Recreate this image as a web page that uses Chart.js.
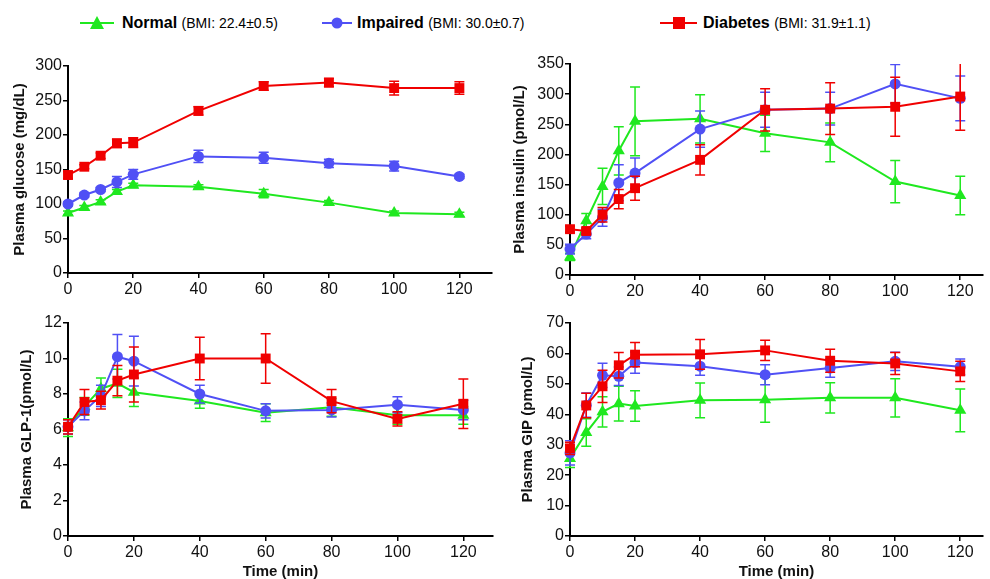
<!DOCTYPE html>
<html>
<head>
<meta charset="utf-8">
<script src="https://cdn.jsdelivr.net/npm/chart.js@4.4.1/dist/chart.umd.min.js"></script>
<style>
  body { margin: 0; background: #fff; font-family: "Liberation Sans", Arial, sans-serif; }
  #wrap { position: relative; width: 990px; height: 579px; overflow: hidden; }
  canvas { position: absolute; }
  .leg { position: absolute; top: 10px; height: 26px; white-space: nowrap; }
  .leg svg { position: absolute; top: 0; }
  .leg span.t { position: absolute; top: 4px; }
  .leg b { font-size: 16px; }
  .leg small { font-size: 14px; }
</style>
</head>
<body>
<div id="wrap">
  <div class="leg" style="left:80px"><svg width="40" height="26"><line x1="0" y1="13" x2="34" y2="13" stroke="#1fe81f" stroke-width="2"/><polygon points="17,6 24,19 10,19" fill="#1fe81f"/></svg><span class="t" style="left:42px"><b>Normal</b> <small>(BMI: 22.4±0.5)</small></span></div>
  <div class="leg" style="left:322px"><svg width="34" height="26"><line x1="0" y1="13" x2="30" y2="13" stroke="#5050f5" stroke-width="2"/><circle cx="15" cy="13" r="5.5" fill="#5050f5"/></svg><span class="t" style="left:35px"><b>Impaired</b> <small>(BMI: 30.0±0.7)</small></span></div>
  <div class="leg" style="left:660px"><svg width="40" height="26"><line x1="0" y1="13" x2="37" y2="13" stroke="#f00000" stroke-width="2"/><rect x="13" y="7" width="12" height="12" fill="#f00000"/></svg><span class="t" style="left:43px"><b>Diabetes</b> <small>(BMI: 31.9±1.1)</small></span></div>
  <canvas id="c1" style="left:0;top:50px"></canvas>
  <canvas id="c2" style="left:500px;top:50px"></canvas>
  <canvas id="c3" style="left:0;top:300px"></canvas>
  <canvas id="c4" style="left:500px;top:300px"></canvas>
</div>
<script>
const times = [0, 5, 10, 15, 20, 40, 60, 80, 100, 120];
const xTicks = [0, 20, 40, 60, 80, 100, 120];
const groups = ["Normal", "Impaired", "Diabetes"];

// glucose (mg/dL): mean and SEM
const glucoseNormal = [87, 95, 103, 118, 127, 125, 115, 102, 87, 85];
const glucoseNormalErr = [3, 3, 3, 3, 3, 3, 6, 3, 3, 3];
const glucoseImpaired = [100, 113, 121, 132, 143, 169, 167, 159, 155, 140];
const glucoseImpairedErr = [3, 3, 3, 8, 7, 9, 8, 6, 7, 3];
const glucoseDiabetes = [142, 154, 170, 188, 189, 235, 271, 276, 268, 268];
const glucoseDiabetesErr = [5, 3, 4, 6, 7, 6, 6, 6, 10, 9];

// insulin (pmol/L)
const insulinNormal = [30, 90, 147, 206, 255, 259, 235, 220, 155, 132];
const insulinNormalErr = [6, 12, 30, 40, 57, 40, 30, 32, 35, 32];
const insulinImpaired = [43, 68, 95, 153, 169, 242, 274, 276, 317, 293];
const insulinImpairedErr = [8, 8, 14, 30, 25, 30, 29, 27, 32, 37];
const insulinDiabetes = [76, 73, 100, 126, 144, 191, 274, 276, 279, 296];
const insulinDiabetesErr = [5, 5, 12, 16, 20, 25, 35, 43, 49, 56];

// GLP-1 (pmol/L)
const glp1Normal = [6.1, 7.3, 8.3, 8.6, 8.1, 7.6, 6.95, 7.25, 6.8, 6.8];
const glp1NormalErr = [0.5, 0.5, 0.6, 0.8, 0.8, 0.4, 0.5, 0.5, 0.5, 0.5];
const glp1Impaired = [6.15, 7.05, 7.9, 10.1, 9.85, 8.0, 7.05, 7.1, 7.4, 7.1];
const glp1ImpairedErr = [0.4, 0.5, 0.6, 1.25, 1.4, 0.5, 0.4, 0.4, 0.45, 0.55];
const glp1Diabetes = [6.15, 7.55, 7.65, 8.75, 9.1, 10.0, 10.0, 7.6, 6.6, 7.45];
const glp1DiabetesErr = [0.4, 0.7, 0.5, 0.85, 1.55, 1.2, 1.4, 0.65, 0.4, 1.4];

// GIP (pmol/L)
const gipNormal = [25.5, 34, 40.8, 43.5, 42.7, 44.6, 44.8, 45.4, 45.4, 41.3];
const gipNormalErr = [3, 4.5, 5, 5.7, 5, 5.7, 7.4, 5, 6.3, 7];
const gipImpaired = [27.3, 43, 52.8, 52.5, 57, 55.8, 53, 55.2, 57.4, 55.6];
const gipImpairedErr = [4, 4, 4, 3, 3.5, 3, 3.3, 3, 3, 2.6];
const gipDiabetes = [28.8, 42.9, 49.2, 56.1, 59.6, 59.7, 61, 57.6, 56.7, 54.1];
const gipDiabetesErr = [2, 4, 5.3, 4.2, 4, 4.9, 3.3, 3.8, 3.6, 3.3];

const colors = ["#1fe81f", "#5050f5", "#f00000"];
const styles = ["triangle", "circle", "rect"];
const radii = [7, 5.5, 7];

// vertical SEM bars drawn under each dataset, through its scales
const errorBars = {
  id: "errorBars",
  beforeDatasetDraw(chart, args) {
    const ds = chart.data.datasets[args.index];
    if (!ds.errors) return;
    const ctx = chart.ctx;
    const ys = chart.scales.y;
    const area = chart.chartArea;
    ctx.save();
    ctx.beginPath();
    ctx.rect(area.left - 12, area.top, area.right - area.left + 24, area.bottom - area.top);
    ctx.clip();
    ctx.strokeStyle = ds.borderColor;
    ctx.lineWidth = 1.5;
    args.meta.data.forEach((pt, i) => {
      const v = ds.data[i].y, e = ds.errors[i];
      const top = ys.getPixelForValue(v + e);
      const bot = ys.getPixelForValue(v - e);
      ctx.beginPath();
      ctx.moveTo(pt.x, top); ctx.lineTo(pt.x, bot);
      ctx.moveTo(pt.x - 5, top); ctx.lineTo(pt.x + 5, top);
      ctx.moveTo(pt.x - 5, bot); ctx.lineTo(pt.x + 5, bot);
      ctx.stroke();
    });
    ctx.restore();
  }
};

function makeDatasets(series, errs) {
  return series.map((vals, g) => ({
    label: groups[g],
    data: times.map((t, i) => ({ x: t, y: vals[i] })),
    errors: errs[g],
    borderColor: colors[g],
    backgroundColor: colors[g],
    pointStyle: styles[g],
    pointRadius: radii[g],
    pointHoverRadius: radii[g],
    pointBorderWidth: 0,
    borderWidth: 2,
    tension: 0,
    clip: false,
    order: 2 - g,
  }));
}

const tickFont = { family: "'Liberation Sans', Arial, sans-serif", size: 16 };
const titleFont = { family: "'Liberation Sans', Arial, sans-serif", size: 15, weight: "bold", lineHeight: 1 };

function makePanel(id, w, h, cfg) {
  const cv = document.getElementById(id);
  cv.width = w; cv.height = h;
  cv.style.width = w + "px"; cv.style.height = h + "px";
  return new Chart(cv, {
    type: "line",
    data: { datasets: makeDatasets(cfg.series, cfg.errs) },
    plugins: [errorBars],
    options: {
      responsive: false,
      animation: false,
      devicePixelRatio: 1,
      layout: { padding: { top: cfg.top, right: cfg.right, left: 0, bottom: 0 } },
      plugins: { legend: { display: false }, tooltip: { enabled: false } },
      scales: {
        x: {
          type: "linear",
          min: 0,
          max: cfg.xMax,
          afterBuildTicks: (s) => { s.ticks = xTicks.map((v) => ({ value: v })); },
          afterFit: (s) => { s.height = cfg.xH; },
          ticks: { font: tickFont, color: "#111", padding: 2, maxRotation: 0, autoSkip: false },
          grid: { drawOnChartArea: false, drawTicks: true, tickLength: 5, color: "#000", lineWidth: 1.5 },
          border: { color: "#000", width: 2 },
          title: cfg.xTitle
            ? { display: true, text: "Time (min)", font: titleFont, color: "#111", padding: { top: 0, bottom: 0 } }
            : { display: false },
        },
        y: {
          min: 0,
          max: cfg.yMax,
          afterFit: (s) => { s.width = cfg.yW; },
          ticks: { stepSize: cfg.step, font: tickFont, color: "#111", padding: 1 },
          grid: { drawOnChartArea: false, drawTicks: true, tickLength: 5, color: "#000", lineWidth: 1.5 },
          border: { color: "#000", width: 2 },
          title: { display: true, text: cfg.yTitle, font: titleFont, color: "#111", padding: { top: cfg.titleOff, bottom: 0 } },
        },
      },
    },
  });
}

makePanel("c1", 500, 250, {
  series: [glucoseNormal, glucoseImpaired, glucoseDiabetes],
  errs: [glucoseNormalErr, glucoseImpairedErr, glucoseDiabetesErr],
  yMax: 300, step: 50, yTitle: "Plasma glucose (mg/dL)",
  xMax: 130, top: 16, right: 8, yW: 68, xH: 27, titleOff: 12, xTitle: false,
});
makePanel("c2", 490, 250, {
  series: [insulinNormal, insulinImpaired, insulinDiabetes],
  errs: [insulinNormalErr, insulinImpairedErr, insulinDiabetesErr],
  yMax: 350, step: 50, yTitle: "Plasma insulin (pmol/L)",
  xMax: 127, top: 14, right: 0, yW: 70, xH: 25, titleOff: 12, xTitle: false,
});
makePanel("c3", 500, 279, {
  series: [glp1Normal, glp1Impaired, glp1Diabetes],
  errs: [glp1NormalErr, glp1ImpairedErr, glp1DiabetesErr],
  yMax: 12, step: 2, yTitle: "Plasma GLP-1(pmol/L)",
  xMax: 129, top: 23, right: 0, yW: 68, xH: 43, titleOff: 19, xTitle: true,
});
makePanel("c4", 490, 279, {
  series: [gipNormal, gipImpaired, gipDiabetes],
  errs: [gipNormalErr, gipImpairedErr, gipDiabetesErr],
  yMax: 70, step: 10, yTitle: "Plasma GIP (pmol/L)",
  xMax: 127, top: 23, right: 0, yW: 70, xH: 43, titleOff: 20, xTitle: true,
});
</script>
</body>
</html>
